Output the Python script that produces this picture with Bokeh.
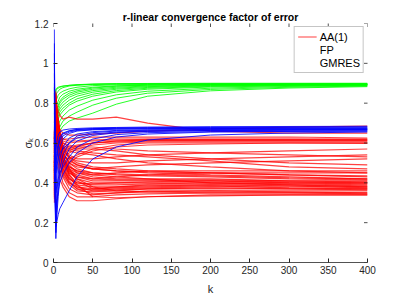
import math
from bokeh.plotting import figure
from bokeh.models import (Legend, LegendItem, FixedTicker, ColumnDataSource, Range1d)
from bokeh.embed import file_html
from bokeh.resources import INLINE

# ---------------- data ----------------
K = [1, 2, 3, 4, 6, 8, 12, 20, 30, 50, 80, 120, 200, 300, 400]

fp_lines = [
    [0.80, 0.84, 0.86, 0.87, 0.875, 0.88, 0.885, 0.89, 0.893, 0.896, 0.898, 0.899, 0.900, 0.900, 0.900],
    [0.75, 0.80, 0.83, 0.85, 0.86, 0.87, 0.878, 0.886, 0.890, 0.894, 0.896, 0.897, 0.898, 0.898, 0.898],
    [0.70, 0.76, 0.80, 0.82, 0.84, 0.85, 0.86, 0.872, 0.880, 0.888, 0.892, 0.894, 0.896, 0.896, 0.896],
    [0.65, 0.72, 0.76, 0.79, 0.81, 0.83, 0.845, 0.86, 0.870, 0.880, 0.887, 0.891, 0.894, 0.895, 0.895],
    [0.60, 0.68, 0.72, 0.75, 0.78, 0.80, 0.82, 0.84, 0.855, 0.870, 0.880, 0.886, 0.891, 0.893, 0.894],
    [0.55, 0.64, 0.69, 0.72, 0.75, 0.77, 0.79, 0.815, 0.835, 0.855, 0.870, 0.879, 0.887, 0.891, 0.892],
    [0.50, 0.60, 0.66, 0.69, 0.72, 0.74, 0.76, 0.79, 0.810, 0.835, 0.856, 0.870, 0.881, 0.887, 0.890],
    [0.48, 0.57, 0.63, 0.66, 0.69, 0.71, 0.735, 0.765, 0.785, 0.815, 0.842, 0.860, 0.875, 0.884, 0.888],
    [0.46, 0.55, 0.60, 0.63, 0.66, 0.68, 0.71, 0.735, 0.755, 0.790, 0.825, 0.850, 0.869, 0.880, 0.886],
    [0.45, 0.53, 0.58, 0.61, 0.64, 0.66, 0.685, 0.71, 0.725, 0.750, 0.795, 0.835, 0.862, 0.876, 0.883],
    [0.62, 0.70, 0.74, 0.77, 0.79, 0.81, 0.83, 0.85, 0.862, 0.876, 0.885, 0.890, 0.893, 0.894, 0.895],
    [0.85, 0.86, 0.87, 0.875, 0.88, 0.883, 0.886, 0.889, 0.892, 0.895, 0.897, 0.897, 0.896, 0.896, 0.896],
    [0.58, 0.66, 0.70, 0.73, 0.76, 0.785, 0.805, 0.83, 0.846, 0.863, 0.875, 0.883, 0.889, 0.892, 0.893],
    [0.52, 0.62, 0.67, 0.705, 0.735, 0.755, 0.775, 0.80, 0.822, 0.845, 0.863, 0.875, 0.884, 0.889, 0.891],
]

aa_lines = [
    [0.40, 0.55, 0.70, 0.60, 0.50, 0.42, 0.38, 0.33, 0.31, 0.31, 0.32, 0.33, 0.34, 0.34, 0.34],
    [0.45, 0.60, 0.75, 0.65, 0.55, 0.47, 0.40, 0.35, 0.33, 0.33, 0.34, 0.345, 0.35, 0.35, 0.35],
    [0.35, 0.50, 0.65, 0.72, 0.60, 0.50, 0.43, 0.37, 0.35, 0.34, 0.35, 0.36, 0.36, 0.36, 0.36],
    [0.50, 0.65, 0.80, 0.70, 0.58, 0.50, 0.44, 0.39, 0.36, 0.355, 0.36, 0.37, 0.37, 0.37, 0.37],
    [0.55, 0.70, 0.78, 0.74, 0.62, 0.53, 0.46, 0.40, 0.37, 0.365, 0.37, 0.375, 0.38, 0.38, 0.38],
    [0.30, 0.45, 0.60, 0.68, 0.64, 0.56, 0.48, 0.42, 0.39, 0.38, 0.38, 0.385, 0.39, 0.39, 0.385],
    [0.60, 0.75, 0.85, 0.76, 0.66, 0.58, 0.50, 0.44, 0.40, 0.39, 0.39, 0.395, 0.40, 0.395, 0.39],
    [0.38, 0.52, 0.68, 0.73, 0.68, 0.60, 0.52, 0.45, 0.42, 0.40, 0.40, 0.40, 0.40, 0.40, 0.40],
    [0.65, 0.78, 0.82, 0.75, 0.70, 0.62, 0.54, 0.47, 0.43, 0.41, 0.41, 0.41, 0.41, 0.405, 0.40],
    [0.42, 0.58, 0.72, 0.77, 0.71, 0.64, 0.56, 0.49, 0.45, 0.43, 0.42, 0.42, 0.42, 0.41, 0.41],
    [0.48, 0.62, 0.76, 0.70, 0.66, 0.60, 0.55, 0.50, 0.47, 0.45, 0.44, 0.435, 0.43, 0.42, 0.415],
    [0.33, 0.48, 0.62, 0.70, 0.72, 0.66, 0.58, 0.52, 0.49, 0.47, 0.46, 0.45, 0.44, 0.43, 0.42],
    [0.58, 0.72, 0.79, 0.73, 0.68, 0.63, 0.57, 0.53, 0.50, 0.48, 0.47, 0.46, 0.45, 0.44, 0.43],
    [0.36, 0.50, 0.66, 0.74, 0.69, 0.61, 0.53, 0.46, 0.42, 0.38, 0.36, 0.355, 0.35, 0.35, 0.345],
    [0.52, 0.68, 0.80, 0.72, 0.64, 0.57, 0.49, 0.43, 0.38, 0.36, 0.365, 0.37, 0.375, 0.37, 0.365],
    [0.44, 0.60, 0.74, 0.68, 0.62, 0.55, 0.51, 0.48, 0.46, 0.44, 0.43, 0.42, 0.40, 0.39, 0.38],
    [0.37, 0.52, 0.67, 0.71, 0.63, 0.55, 0.47, 0.41, 0.37, 0.345, 0.35, 0.355, 0.36, 0.355, 0.35],
    [0.43, 0.58, 0.71, 0.66, 0.58, 0.51, 0.45, 0.40, 0.38, 0.37, 0.375, 0.38, 0.385, 0.375, 0.37],
    [0.49, 0.64, 0.77, 0.69, 0.61, 0.54, 0.47, 0.42, 0.40, 0.395, 0.40, 0.405, 0.41, 0.40, 0.395],
    [0.53, 0.67, 0.79, 0.71, 0.63, 0.56, 0.50, 0.46, 0.44, 0.42, 0.415, 0.415, 0.415, 0.41, 0.405],
    [0.39, 0.54, 0.69, 0.74, 0.67, 0.59, 0.53, 0.48, 0.46, 0.45, 0.445, 0.44, 0.435, 0.425, 0.42],
    [0.57, 0.71, 0.81, 0.73, 0.65, 0.59, 0.54, 0.51, 0.49, 0.47, 0.46, 0.455, 0.45, 0.44, 0.435],
    [0.41, 0.57, 0.71, 0.75, 0.68, 0.60, 0.52, 0.44, 0.39, 0.33, 0.325, 0.33, 0.335, 0.34, 0.34],
    [0.46, 0.61, 0.73, 0.69, 0.62, 0.55, 0.49, 0.45, 0.43, 0.42, 0.43, 0.44, 0.45, 0.45, 0.45],
    [0.32, 0.47, 0.61, 0.69, 0.65, 0.58, 0.51, 0.47, 0.45, 0.44, 0.45, 0.46, 0.46, 0.46, 0.46],
    [0.59, 0.73, 0.83, 0.75, 0.67, 0.60, 0.53, 0.47, 0.41, 0.37, 0.38, 0.39, 0.39, 0.385, 0.375],
    [0.50, 0.66, 0.78, 0.72, 0.66, 0.62, 0.58, 0.56, 0.55, 0.54, 0.52, 0.50, 0.48, 0.46, 0.45],
    [0.46, 0.62, 0.74, 0.70, 0.64, 0.60, 0.56, 0.53, 0.51, 0.50, 0.50, 0.51, 0.52, 0.53, 0.54],
    [0.40, 0.56, 0.70, 0.75, 0.70, 0.65, 0.60, 0.58, 0.57, 0.57, 0.56, 0.54, 0.52, 0.50, 0.49],
    [0.56, 0.70, 0.82, 0.76, 0.70, 0.64, 0.58, 0.54, 0.52, 0.52, 0.53, 0.54, 0.55, 0.56, 0.57],
    [0.62, 0.74, 0.80, 0.74, 0.68, 0.63, 0.59, 0.57, 0.56, 0.55, 0.54, 0.53, 0.51, 0.48, 0.47],
    [0.34, 0.50, 0.64, 0.70, 0.66, 0.60, 0.55, 0.50, 0.48, 0.47, 0.48, 0.49, 0.50, 0.51, 0.52],
    [0.47, 0.63, 0.76, 0.71, 0.67, 0.63, 0.60, 0.59, 0.58, 0.58, 0.57, 0.56, 0.55, 0.54, 0.53],
    [0.55, 0.70, 0.80, 0.74, 0.68, 0.62, 0.58, 0.58, 0.59, 0.60, 0.605, 0.61, 0.61, 0.61, 0.61],
    [0.60, 0.74, 0.84, 0.78, 0.72, 0.66, 0.62, 0.61, 0.61, 0.615, 0.62, 0.62, 0.62, 0.62, 0.62],
    [0.45, 0.60, 0.72, 0.70, 0.64, 0.58, 0.54, 0.55, 0.57, 0.59, 0.60, 0.605, 0.605, 0.605, 0.605],
    [0.50, 0.65, 0.77, 0.72, 0.66, 0.60, 0.56, 0.56, 0.58, 0.60, 0.61, 0.615, 0.615, 0.615, 0.615],
    [0.64, 0.76, 0.82, 0.76, 0.70, 0.65, 0.62, 0.62, 0.625, 0.63, 0.63, 0.63, 0.63, 0.63, 0.625],
    [0.42, 0.56, 0.68, 0.66, 0.60, 0.55, 0.50, 0.50, 0.53, 0.56, 0.58, 0.59, 0.595, 0.60, 0.60],
    [0.53, 0.68, 0.79, 0.73, 0.67, 0.61, 0.57, 0.57, 0.585, 0.60, 0.61, 0.612, 0.612, 0.612, 0.612],
    [0.61, 0.75, 0.83, 0.77, 0.71, 0.65, 0.61, 0.60, 0.605, 0.61, 0.615, 0.618, 0.618, 0.618, 0.618],
    [0.48, 0.63, 0.75, 0.70, 0.64, 0.58, 0.53, 0.52, 0.54, 0.57, 0.59, 0.60, 0.60, 0.60, 0.598],
    [0.70, 0.80, 0.86, 0.80, 0.76, 0.74, 0.72, 0.73, 0.72, 0.72, 0.73, 0.70, 0.66, 0.65, 0.65],
    [0.62, 0.74, 0.80, 0.75, 0.70, 0.67, 0.65, 0.64, 0.64, 0.645, 0.65, 0.66, 0.67, 0.68, 0.685],
]

gmres_lines = [
    [1.17, 0.55, 0.40, 0.50, 0.58, 0.62, 0.645, 0.66, 0.668, 0.672, 0.675, 0.677, 0.678, 0.679, 0.680],
    [1.05, 0.45, 0.30, 0.42, 0.52, 0.58, 0.62, 0.648, 0.66, 0.666, 0.670, 0.672, 0.673, 0.674, 0.675],
    [0.95, 0.35, 0.20, 0.32, 0.44, 0.52, 0.58, 0.625, 0.645, 0.657, 0.663, 0.666, 0.668, 0.669, 0.670],
    [0.90, 0.30, 0.12, 0.22, 0.33, 0.42, 0.50, 0.57, 0.61, 0.638, 0.652, 0.658, 0.662, 0.664, 0.665],
    [0.85, 0.40, 0.25, 0.30, 0.36, 0.40, 0.44, 0.50, 0.55, 0.60, 0.63, 0.645, 0.655, 0.658, 0.660],
    [0.80, 0.50, 0.35, 0.38, 0.42, 0.45, 0.48, 0.53, 0.58, 0.62, 0.642, 0.652, 0.657, 0.659, 0.660],
    [0.75, 0.60, 0.50, 0.55, 0.60, 0.63, 0.65, 0.662, 0.668, 0.672, 0.674, 0.675, 0.676, 0.676, 0.676],
    [1.00, 0.65, 0.55, 0.60, 0.64, 0.655, 0.665, 0.67, 0.673, 0.676, 0.678, 0.680, 0.682, 0.683, 0.684],
    [0.70, 0.40, 0.18, 0.20, 0.24, 0.27, 0.30, 0.36, 0.43, 0.52, 0.58, 0.615, 0.64, 0.65, 0.655],
    [0.88, 0.55, 0.45, 0.48, 0.52, 0.55, 0.57, 0.60, 0.625, 0.645, 0.655, 0.660, 0.663, 0.665, 0.666],
    [1.10, 0.62, 0.48, 0.53, 0.58, 0.61, 0.635, 0.655, 0.663, 0.668, 0.670, 0.671, 0.672, 0.672, 0.672],
    [0.65, 0.35, 0.15, 0.25, 0.38, 0.47, 0.54, 0.60, 0.635, 0.652, 0.660, 0.664, 0.666, 0.667, 0.668],
]

x_ticks = [0, 50, 100, 150, 200, 250, 300, 350, 400]
y_ticks = [0, 0.2, 0.4, 0.6, 0.8, 1.0, 1.2]
y_tick_labels = ["0", "0.2", "0.4", "0.6", "0.8", "1", "1.2"]
series_labels = ["AA(1)", "FP", "GMRES"]
title_text = "r-linear convergence factor of error"
X_MIN, X_MAX = 0, 400
Y_MIN, Y_MAX = 0, 1.2

# ---------------- figure ----------------
FONT = "Liberation Sans"
AX = "#262626"

p = figure(width=407, height=297, x_range=Range1d(X_MIN, X_MAX), y_range=Range1d(Y_MIN, Y_MAX),
           output_backend="svg", toolbar_location=None,
           min_border_left=53, min_border_right=40, min_border_top=23, min_border_bottom=33)
p.grid.visible = False
p.outline_line_color = None
p.background_fill_color = "white"
p.border_fill_color = "white"

p.title.text = title_text
p.title.align = "center"
p.title.text_font = FONT
p.title.text_font_size = "10.5px"
p.title.text_font_style = "bold"
p.title.text_color = "black"
p.title.standoff = 2

def src(lines):
    return ColumnDataSource(dict(xs=[K] * len(lines), ys=lines))

r_fp = p.multi_line("xs", "ys", source=src(fp_lines), line_color="#00ff00", line_width=1.0, line_alpha=0.85)
r_aa = p.multi_line("xs", "ys", source=src(aa_lines), line_color="#ff0000", line_width=1.2, line_alpha=0.75)
r_gm = p.multi_line("xs", "ys", source=src(gmres_lines), line_color="#0000ff", line_width=1.0, line_alpha=0.85)

# axes styling
for ax in (p.xaxis[0], p.yaxis[0]):
    ax.axis_line_color = AX
    ax.axis_line_width = 0.8
    ax.major_tick_line_color = AX
    ax.major_tick_in = 4
    ax.major_tick_out = 0
    ax.minor_tick_line_color = None
    ax.major_label_text_font = FONT
    ax.major_label_text_font_size = "10px"
    ax.major_label_text_color = AX
    ax.axis_label_text_font = FONT
    ax.axis_label_text_font_size = "11px"
    ax.axis_label_text_font_style = "normal"
    ax.axis_label_text_color = AX

p.yaxis[0].axis_line_color = None
p.xaxis[0].ticker = FixedTicker(ticks=x_ticks)
p.yaxis[0].ticker = FixedTicker(ticks=y_ticks)
p.yaxis[0].major_label_overrides = {t: l for t, l in zip(y_ticks, y_tick_labels)}
p.xaxis[0].axis_label = "k"
p.yaxis[0].axis_label = "σₖ"
p.xaxis[0].major_label_standoff = 3
p.xaxis[0].axis_label_standoff = 6
p.yaxis[0].major_label_standoff = 5
p.yaxis[0].axis_label_standoff = -2

# box ticks on top and right edges (half of each marker is clipped by the frame)
p.scatter(x=x_ticks, y=[Y_MAX] * len(x_ticks), marker="dash", angle=math.pi / 2,
          size=7, line_color=AX, line_width=0.8)
p.scatter(x=[X_MAX] * len(y_ticks), y=y_ticks, marker="dash",
          size=7, line_color=AX, line_width=0.8)

# legend
r_fp_leg = p.line([], [], line_alpha=0)
r_gm_leg = p.line([], [], line_alpha=0)
legend = Legend(items=[LegendItem(label=series_labels[0], renderers=[r_aa]),
                       LegendItem(label=series_labels[1], renderers=[r_fp_leg]),
                       LegendItem(label=series_labels[2], renderers=[r_gm_leg])],
                location="top_right", margin=3, padding=3, spacing=0,
                glyph_width=19, glyph_height=13, label_height=13, label_standoff=3,
                label_text_font=FONT, label_text_font_size="11px", label_text_color="black",
                border_line_color="#8c8c8c", border_line_width=1,
                background_fill_color="white", background_fill_alpha=1)
p.add_layout(legend)

open("out.html", "w").write(file_html(p, INLINE))
